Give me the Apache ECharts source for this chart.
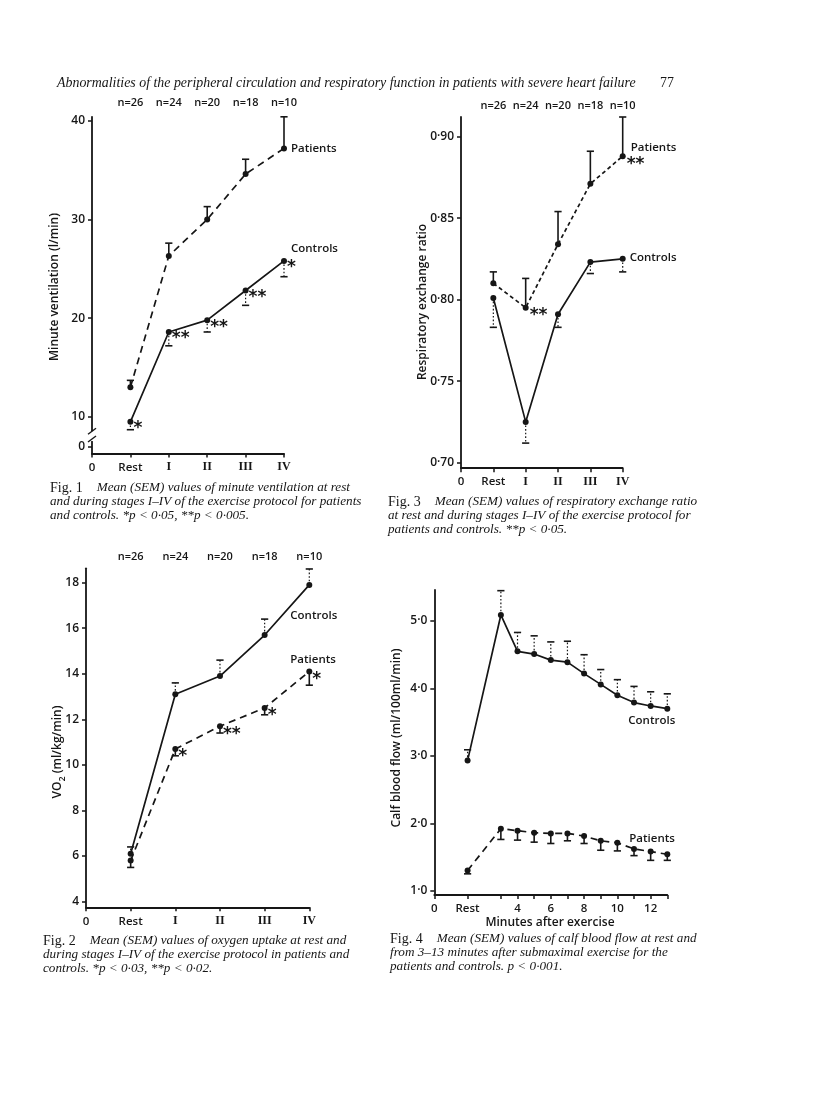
<!DOCTYPE html>
<html><head><meta charset="utf-8">
<script src="https://cdn.jsdelivr.net/npm/echarts@6/dist/echarts.min.js"></script>
<style>html,body{margin:0;padding:0;background:#fff}#c{width:816px;height:1093px}</style>
</head><body><div id="c"></div>
<script>
// ---------- shared ----------
const stages = ['Rest', 'I', 'II', 'III', 'IV'];
const stageX = [1, 2, 3, 4, 5];
const nLabels = ['n=26', 'n=24', 'n=20', 'n=18', 'n=10'];

// ---------- Fig 1: minute ventilation (l/min) ----------
const f1Patients    = [13.0, 26.3, 30.0, 34.6, 37.2];
const f1PatientsErr = [13.7, 27.6, 31.3, 36.1, 40.4];
const f1Controls    = [9.5, 18.6, 19.8, 22.8, 25.8];
const f1ControlsErr = [8.7, 17.2, 18.6, 21.3, 24.2];
const f1Sig         = ['*', '**', '**', '**', '*'];
const f1YTicks      = [10, 20, 30, 40];
const f1ZeroAt      = 7;   // where "0" sits below the axis break

// ---------- Fig 3: respiratory exchange ratio ----------
const f3Patients    = [0.810, 0.795, 0.834, 0.871, 0.888];
const f3PatientsErr = [0.817, 0.813, 0.854, 0.891, 0.912];
const f3Controls    = [0.801, 0.725, 0.791, 0.823, 0.825];
const f3ControlsErr = [0.783, 0.712, 0.783, 0.816, 0.817];
const f3Sig         = ['', '**', '', '', '**'];
const f3YTicks      = [0.70, 0.75, 0.80, 0.85, 0.90];

// ---------- Fig 2: VO2 (ml/kg/min) ----------
const f2Controls    = [6.1, 13.1, 13.9, 15.7, 17.9];
const f2ControlsErr = [6.4, 13.6, 14.6, 16.4, 18.6];
const f2Patients    = [5.8, 10.7, 11.7, 12.5, 14.1];
const f2PatientsErr = [5.5, 10.4, 11.4, 12.2, 13.5];
const f2Sig         = ['', '*', '**', '*', '*'];
const f2YTicks      = [4, 6, 8, 10, 12, 14, 16, 18];

// ---------- Fig 4: calf blood flow ----------
const f4X           = [1, 3, 4, 5, 6, 7, 8, 9, 10, 11, 12, 13]; // 1 = Rest
const f4Controls    = [2.93, 5.09, 4.55, 4.51, 4.42, 4.39, 4.22, 4.06, 3.90, 3.79, 3.74, 3.70];
const f4ControlsErr = [3.09, 5.45, 4.83, 4.78, 4.69, 4.70, 4.50, 4.28, 4.13, 4.03, 3.95, 3.92];
const f4Patients    = [1.30, 1.92, 1.89, 1.86, 1.85, 1.85, 1.81, 1.74, 1.71, 1.62, 1.58, 1.54];
const f4PatientsErr = [1.25, 1.76, 1.75, 1.72, 1.70, 1.74, 1.70, 1.60, 1.59, 1.52, 1.45, 1.45];
const f4LabelX      = [-1, 1, 4, 6, 8, 10, 12];
const f4LabelText   = ['0', 'Rest', '4', '6', '8', '10', '12'];
const f4TickX       = [-1, 1, 3, 4, 5, 6, 7, 8, 9, 10, 11, 12, 13];
const f4YTicks      = [1, 2, 3, 4, 5];

// ---------- styling helpers ----------
const INK = '#161616';
const SANS = '"Open Sans", "DejaVu Sans", sans-serif';
const SERIF = '"Liberation Serif", "DejaVu Serif", serif';

const chart = echarts.init(document.getElementById('c'), null, {renderer: 'canvas'});

function grid(left, top, width, height) {
  return {left, top, width, height, containLabel: false, show: false};
}
function stageXAxis(gi) {
  return {
    type: 'value', gridIndex: gi, min: 0, max: 5, position: 'bottom',
    axisLine: {onZero: false, lineStyle: {color: INK, width: 1.8}},
    axisTick: {show: true, inside: false, length: 4, customValues: [0, 1, 2, 3, 4, 5], lineStyle: {color: INK, width: 1.5}},
    splitLine: {show: false},
    axisLabel: {
      customValues: [0, 1, 2, 3, 4, 5], margin: 8, color: INK,
      fontFamily: SANS, fontWeight: 600, fontSize: 11.5,
      formatter: v => v === 0 ? '0' : (v === 1 ? stages[0] : '{r|' + stages[v - 1] + '}'),
      rich: {r: {fontFamily: SERIF, fontWeight: 'bold', fontSize: 12, color: INK}}
    }
  };
}
function nAxis(gi, margin) {
  return {
    type: 'value', gridIndex: gi, min: 0, max: 5, position: 'top',
    axisLine: {show: false}, axisTick: {show: false}, splitLine: {show: false},
    axisLabel: {
      customValues: stageX, margin, color: INK, fontFamily: SANS, fontWeight: 600, fontSize: 11,
      formatter: v => nLabels[v - 1]
    }
  };
}
function yAxis(gi, min, max, ticks, fmt) {
  return {
    type: 'value', gridIndex: gi, min, max,
    axisLine: {show: true, onZero: false, lineStyle: {color: INK, width: 1.8}},
    axisTick: {show: true, inside: false, length: 4, customValues: ticks, lineStyle: {color: INK, width: 1.5}},
    splitLine: {show: false},
    axisLabel: {customValues: ticks, margin: 7, color: INK, fontFamily: SANS, fontWeight: 600, fontSize: 12, formatter: fmt}
  };
}
function lineSeries(xi, yi, xs, vals, dash, sig, sigOff, nameLbl) {
  const s = {
    type: 'line', xAxisIndex: xi, yAxisIndex: yi,
    data: xs.map((x, i) => [x, vals[i]]),
    symbol: 'circle', symbolSize: 6, showSymbol: true,
    itemStyle: {color: INK},
    lineStyle: {color: INK, width: 1.7, type: dash || 'solid'},
    z: 3, silent: true, animation: false,
    label: {
      show: !!sig, position: 'right', distance: 2, offset: sigOff || [0, 6],
      formatter: p => (sig ? sig[p.dataIndex] : ''),
      fontFamily: '"DejaVu Sans", sans-serif', fontWeight: 'bold', fontSize: 17, color: INK
    }
  };
  if (nameLbl) {
    const last = xs.length - 1;
    s.markPoint = {
      symbol: 'circle', symbolSize: 0, silent: true, animation: false,
      data: [{coord: [xs[last], vals[last]], value: nameLbl.text}],
      label: {
        show: true, position: 'inside', align: 'left', verticalAlign: 'middle',
        offset: nameLbl.off, formatter: nameLbl.text,
        fontFamily: SANS, fontWeight: 600, fontSize: 11.5, color: INK
      }
    };
  }
  return s;
}
function errSeries(xi, yi, xs, vals, ends, dotted) {
  return {
    type: 'custom', xAxisIndex: xi, yAxisIndex: yi, silent: true, animation: false, z: 2,
    data: xs.map((x, i) => [x, vals[i], ends[i]]),
    renderItem: (params, api) => {
      const p0 = api.coord([api.value(0), api.value(1)]);
      const p1 = api.coord([api.value(0), api.value(2)]);
      const w = 3.6;
      return {type: 'group', children: [
        {type: 'line', shape: {x1: p0[0], y1: p0[1], x2: p1[0], y2: p1[1]},
         style: {stroke: INK, lineWidth: dotted ? 1.2 : 1.6, lineDash: dotted ? [1.6, 2] : null}},
        {type: 'line', shape: {x1: p1[0] - w, y1: p1[1], x2: p1[0] + w, y2: p1[1]},
         style: {stroke: INK, lineWidth: 1.6}}
      ]};
    }
  };
}
const dec = v => v.toFixed(2).replace('.', '·');
const dec1 = v => v.toFixed(1).replace('.', '·');

const option = {
  backgroundColor: '#fff',
  animation: false,
  grid: [
    grid(92, 116.8, 192, 336.6),     // Fig 1
    grid(461, 117, 161.7, 351.2),    // Fig 3
    grid(86, 568.3, 223.3, 339),     // Fig 2
    grid(434.3, 590, 233, 305)       // Fig 4
  ],
  xAxis: [
    stageXAxis(0), nAxis(0, 8),
    stageXAxis(1), nAxis(1, 6),
    stageXAxis(2), nAxis(2, 6),
    {
      type: 'value', gridIndex: 3, min: -1, max: 13, position: 'bottom',
      axisLine: {onZero: false, lineStyle: {color: INK, width: 1.8}},
      axisTick: {show: true, length: 4, customValues: f4TickX, lineStyle: {color: INK, width: 1.5}},
      splitLine: {show: false},
      axisLabel: {customValues: f4LabelX, margin: 8, color: INK, fontFamily: SANS, fontWeight: 600, fontSize: 11.5,
        formatter: v => f4LabelText[f4LabelX.indexOf(v)]}
    }
  ],
  yAxis: [
    yAxis(0, 6.3, 40.4, [f1ZeroAt].concat(f1YTicks), v => v === f1ZeroAt ? '0' : String(v)),
    yAxis(1, 0.6966, 0.912, f3YTicks, dec),
    yAxis(2, 3.75, 18.63, f2YTicks, v => String(v)),
    yAxis(3, 0.936, 5.46, f4YTicks, dec1)
  ],
  series: [
    // Fig 1
    errSeries(0, 0, stageX, f1Patients, f1PatientsErr, false),
    errSeries(0, 0, stageX, f1Controls, f1ControlsErr, true),
    lineSeries(0, 0, stageX, f1Patients, [7, 5], null, null, {text: 'Patients', off: [7, 0]}),
    lineSeries(0, 0, stageX, f1Controls, 'solid', f1Sig, [-2, 7], {text: 'Controls', off: [7, -12]}),
    // Fig 3
    errSeries(2, 1, stageX, f3Patients, f3PatientsErr, false),
    errSeries(2, 1, stageX, f3Controls, f3ControlsErr, true),
    lineSeries(2, 1, stageX, f3Patients, [4, 3], f3Sig, [-1, 8], {text: 'Patients', off: [8, -8]}),
    lineSeries(2, 1, stageX, f3Controls, 'solid', null, null, {text: 'Controls', off: [7, -1]}),
    // Fig 2
    errSeries(4, 2, stageX, f2Controls, f2ControlsErr, true),
    errSeries(4, 2, stageX, f2Patients, f2PatientsErr, false),
    lineSeries(4, 2, stageX, f2Controls, 'solid', null, null, {text: 'Controls', off: [-19, 31]}),
    lineSeries(4, 2, stageX, f2Patients, [7, 5], f2Sig, [-2, 8], {text: 'Patients', off: [-19, -12]}),
    // Fig 4
    errSeries(6, 3, f4X, f4Controls, f4ControlsErr, true),
    errSeries(6, 3, f4X, f4Patients, f4PatientsErr, false),
    lineSeries(6, 3, f4X, f4Controls, 'solid', null, null, {text: 'Controls', off: [-39, 12]}),
    lineSeries(6, 3, f4X, f4Patients, [7, 5], null, null, {text: 'Patients', off: [-38, -16]})
  ]
};
chart.setOption(option);

// ---------- text & axis-break decoration ----------
const CAP = 13.2;
const capStyle = {
  a: {fontFamily: SERIF, fontSize: 14, color: INK, padding: [0, 14, 0, 0]},
  b: {fontFamily: SERIF, fontStyle: 'italic', fontSize: CAP, color: INK}
};
function caption(x, y, lines) {
  return {
    type: 'text', left: x, top: y, silent: true,
    style: {
      text: lines.join('\n'), rich: capStyle, lineHeight: 14, fill: INK,
      font: 'italic ' + CAP + 'px ' + SERIF
    }
  };
}
function yTitle(x, y, text, rich) {
  return {
    type: 'text', x, y, rotation: Math.PI / 2, silent: true,
    style: {text, rich, align: 'center', verticalAlign: 'middle', fill: INK,
      fontFamily: SANS, fontWeight: 600, fontSize: 12}
  };
}

const brkTop = chart.convertToPixel({xAxisIndex: 0, yAxisIndex: 0}, [0, 8.55]);
const brkBot = chart.convertToPixel({xAxisIndex: 0, yAxisIndex: 0}, [0, 7.55]);
const ax = brkTop[0];

chart.setOption({
  graphic: [
    {type: 'text', left: 57, top: 76, silent: true,
     style: {text: 'Abnormalities of the peripheral circulation and respiratory function in patients with severe heart failure',
       fill: INK, font: 'italic 13.9px ' + SERIF}},
    {type: 'text', left: 660, top: 76, silent: true, style: {text: '77', fill: INK, font: '13.9px ' + SERIF}},

    caption(50, 481, ['{a|Fig. 1}{b|Mean (SEM) values of minute ventilation at rest}',
                      '{b|and during stages I–IV of the exercise protocol for patients}',
                      '{b|and controls. *p < 0·05, **p < 0·005.}']),
    caption(388, 495, ['{a|Fig. 3}{b|Mean (SEM) values of respiratory exchange ratio}',
                       '{b|at rest and during stages I–IV of the exercise protocol for}',
                       '{b|patients and controls. **p < 0·05.}']),
    caption(43, 934, ['{a|Fig. 2}{b|Mean (SEM) values of oxygen uptake at rest and}',
                      '{b|during stages I–IV of the exercise protocol in patients and}',
                      '{b|controls. *p < 0·03, **p < 0·02.}']),
    caption(390, 932, ['{a|Fig. 4}{b|Mean (SEM) values of calf blood flow at rest and}',
                       '{b|from 3–13 minutes after submaximal exercise for the}',
                       '{b|patients and controls. p < 0·001.}']),

    yTitle(55, 287, 'Minute ventilation (l/min)'),
    yTitle(423, 302, 'Respiratory exchange ratio'),
    yTitle(58, 752, 'VO{s|2} (ml/kg/min)', {s: {fontFamily: SANS, fontWeight: 600, fontSize: 9, verticalAlign: 'bottom', padding: [8, 0, 0, 0]}}),
    yTitle(397, 738, 'Calf blood flow (ml/100ml/min)'),
    {type: 'text', x: 550, y: 923, silent: true,
     style: {text: 'Minutes after exercise', align: 'center', verticalAlign: 'middle', fill: INK,
       fontFamily: SANS, fontWeight: 600, fontSize: 12}},

    // axis break on Fig 1 y axis
    {type: 'rect', silent: true, z: 100, shape: {x: ax - 2, y: brkTop[1], width: 4, height: brkBot[1] - brkTop[1]},
     style: {fill: '#fff'}},
    {type: 'line', silent: true, z: 101, shape: {x1: ax - 4, y1: brkTop[1] + 3, x2: ax + 4, y2: brkTop[1] - 3},
     style: {stroke: INK, lineWidth: 1.4}},
    {type: 'line', silent: true, z: 101, shape: {x1: ax - 4, y1: brkBot[1] + 1, x2: ax + 4, y2: brkBot[1] - 5},
     style: {stroke: INK, lineWidth: 1.4}}
  ]
});
</script>
</body></html>
